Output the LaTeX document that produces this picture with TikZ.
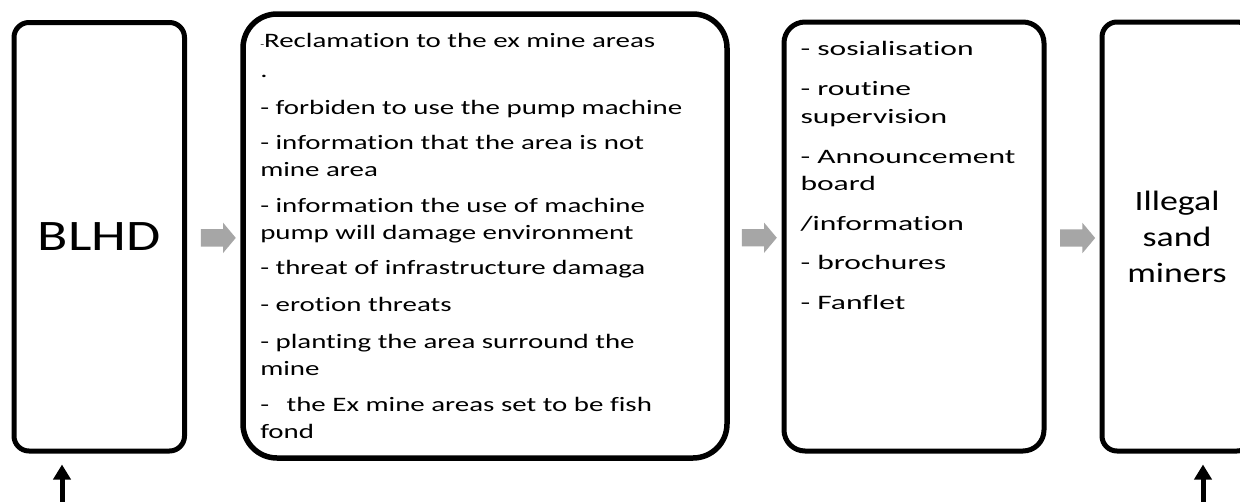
\documentclass[tikz,border=0pt]{standalone}
\usepackage{fontspec}
\setmainfont{Carlito}
\newfontfamily\widefont[FakeStretch=1.28,Ligatures=NoCommon]{Carlito}
\newfontfamily\listfont[FakeStretch=1.41,Ligatures=NoCommon]{Carlito}
\newfontfamily\listfontwide[FakeStretch=1.54,Ligatures=NoCommon]{Carlito}
\usetikzlibrary{calc,shapes.arrows,arrows.meta}
\definecolor{arrowgray}{RGB}{166,166,166}
\begin{document}
\begin{tikzpicture}[x=1pt,y=-1pt,
  box/.style={draw=black, line width=5pt, rounded corners=#1, inner sep=0pt, align=center},
  listtext/.style={anchor=north west, inner sep=0pt, outer sep=0pt, align=left,
    font=\listfont\fontsize{20.5}{26.5}\selectfont},
  blockarrow/.style={single arrow, fill=arrowgray, draw=none, inner xsep=0pt, inner ysep=8.5pt,
    single arrow head extend=6.5pt, single arrow tip angle=100, minimum height=35pt},
  uparrow/.style={line width=5pt, -{Triangle[width=17pt,length=15pt]}, shorten >=11pt}]
\clip (0,0) rectangle (1240,501);
\fill[white] (0,0) rectangle (1240,501);

% boxes
\node[box=15pt, minimum width=170.5pt, minimum height=428.5pt,
  font=\widefont\fontsize{43.5}{50}\selectfont] (b1) at (99.25,236.75) {BLHD};
\node[box=34pt, line width=5.5pt, minimum width=484pt, minimum height=444pt] (b2) at (485,236) {};
\node[box=21pt, minimum width=260pt, minimum height=429pt] (b3) at (914,236.5) {};
\node[box=15pt, minimum width=150pt, minimum height=429pt,
  font=\widefont\fontsize{28}{36}\selectfont] (b4) at (1177,236.5) {Illegal\\sand\\miners};

% list texts
\node[listtext] (t2) at ($(b2.north west)+(20,16)$) {%
  \rule{0pt}{20pt}{\fontsize{9}{9}\selectfont -}Reclamation to the ex mine areas\\[3.5pt]
  .\\[10.5pt]
  - forbiden to use the pump machine\\[9pt]
  - information that the area is not\\
  mine area\\[10pt]
  - information the use of machine\\
  pump will damage environment\\[9pt]
  - threat of infrastructure damaga\\[10.5pt]
  - erotion threats\\[10.5pt]
  - planting the area surround the\\
  mine\\[10pt]
  -\hspace{11pt} the Ex mine areas set to be fish\\
  fond};
\node[listtext, font=\listfontwide\fontsize{20.5}{27.5}\selectfont] (t3) at ($(b3.north west)+(19,16)$) {%
  \rule{0pt}{20pt}- sosialisation\\[12.5pt]
  - routine\\
  supervision\\[12.5pt]
  - Announcement\\
  board\\[12.5pt]
  /information\\[11.5pt]
  - brochures\\[12.5pt]
  - Fanflet};

% gray block arrows
\node[blockarrow] (g1) at ($(b1.east)!0.5!(b2.west)+(1,1.5)$) {};
\node[blockarrow] (g2) at ($(b2.east)!0.5!(b3.west)+(0,1.5)$) {};
\node[blockarrow] (g3) at ($(b3.east)!0.5!(b4.west)+(1,1.5)$) {};

% black arrows from below
\coordinate (s1) at (62,505);
\coordinate (s2) at (1203,505);
\draw[uparrow] (s1) -- (s1 |- b1.south);
\draw[uparrow] (s2) -- (s2 |- b4.south);
\end{tikzpicture}
\end{document}
